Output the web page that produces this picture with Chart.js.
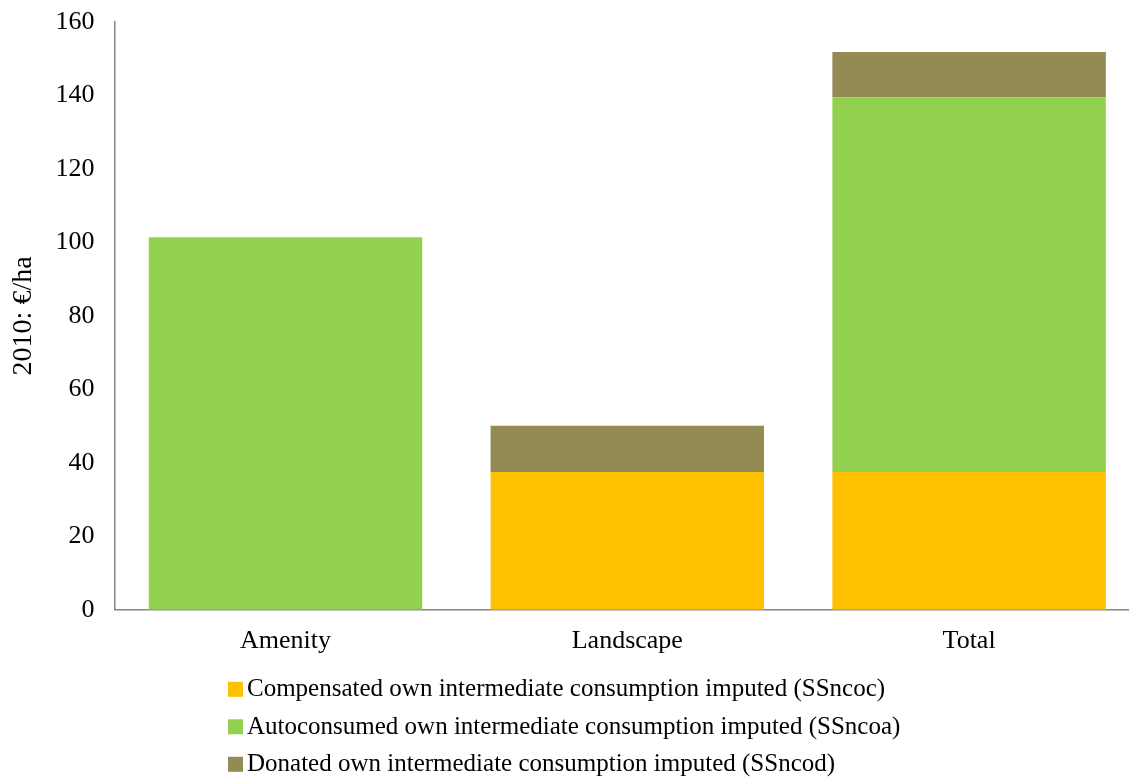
<!DOCTYPE html>
<html>
<head>
<meta charset="utf-8">
<script src="https://cdn.jsdelivr.net/npm/chart.js@4.4.1/dist/chart.umd.min.js"></script>
<style>
  html, body { margin: 0; padding: 0; background: #fff; overflow: hidden; }
  #wrap { position: absolute; left: 0; top: 0; width: 1140px; height: 782px; }
</style>
</head>
<body>
<div id="wrap"><canvas id="myChart" width="1140" height="782"></canvas></div>
<script>
const categories = ["Amenity", "Landscape", "Total"];
const compensated = [0, 37.5, 37.5];
const autoconsumed = [101.4, 0, 102];
const donated = [0, 12.6, 12.3];
const yTicks = [0, 20, 40, 60, 80, 100, 120, 140, 160];

const FONT = "'Liberation Serif', 'Times New Roman', serif";

// legend stacked in rows, left aligned, under the axis labels
const rowLegend = {
    id: "rowLegend",
    afterDraw(chart) {
        const ctx = chart.ctx;
        const base = chart.chartArea.bottom;
        ctx.save();
        ctx.font = "25px " + FONT;
        ctx.textBaseline = "middle";
        chart.data.datasets.forEach((ds, i) => {
            let y = base + 79 + i * 37.5;
            ctx.fillStyle = ds.backgroundColor;
            ctx.fillRect(228, y - 7, 15, 15);
            ctx.fillStyle = "#000";
            ctx.fillText(ds.label, 247, y + 1);
        });
        ctx.restore();
    }
};

var ctx = document.getElementById("myChart").getContext("2d");
var myChart = new Chart(ctx, {
    type: "bar",
    data: {
        labels: categories,
        datasets: [
            { label: "Compensated own intermediate consumption imputed (SSncoc)", data: compensated, backgroundColor: "#FFC000" },
            { label: "Autoconsumed own intermediate consumption imputed (SSncoa)", data: autoconsumed, backgroundColor: "#92D050" },
            { label: "Donated own intermediate consumption imputed (SSncod)", data: donated, backgroundColor: "#948A54" }
        ]
    },
    options: {
        responsive: false,
        animation: false,
        layout: { padding: { top: 0, bottom: 109, left: 7, right: 0 } },
        datasets: { bar: { categoryPercentage: 1, barPercentage: 0.8, borderWidth: 0 } },
        plugins: { legend: { display: false }, tooltip: { enabled: false } },
        scales: {
            x: {
                stacked: true,
                grid: { display: false, drawTicks: false },
                border: { color: "#868686", width: 1.5 },
                ticks: { color: "#000", font: { family: FONT, size: 26 }, padding: 16 }
            },
            y: {
                stacked: true,
                min: 0,
                max: 160,
                afterBuildTicks(axis) { axis.ticks = yTicks.map(v => ({ value: v })); },
                // only half the top label needs room above the axis
                afterFit(axis) { axis.paddingTop = 22; },
                grid: { display: false, drawTicks: false },
                border: { color: "#868686", width: 1.5 },
                ticks: { color: "#000", font: { family: FONT, size: 26 }, padding: 20 },
                title: { display: true, text: "2010: €/ha", color: "#000", font: { family: FONT, size: 28 }, padding: { top: 0, bottom: -5 } }
            }
        }
    },
    plugins: [rowLegend]
});
</script>
</body>
</html>
